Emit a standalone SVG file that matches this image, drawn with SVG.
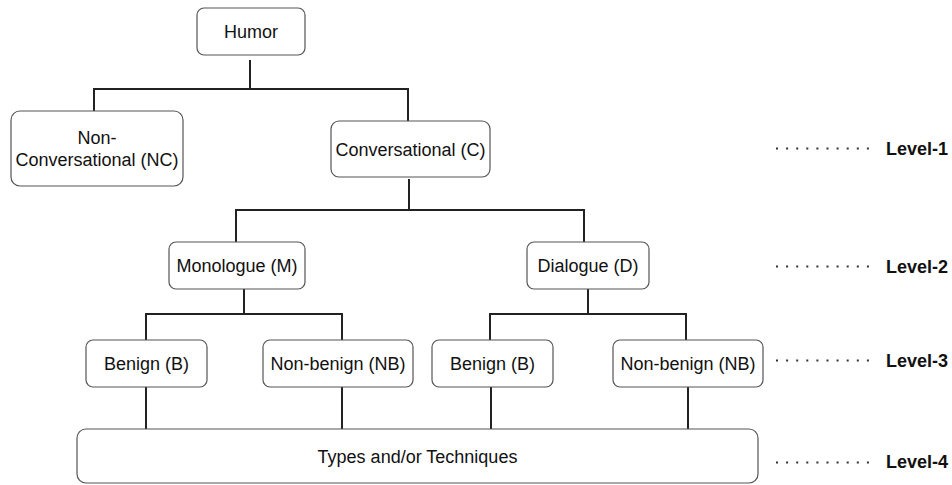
<svg xmlns="http://www.w3.org/2000/svg" width="952" height="485" viewBox="0 0 952 485">
<style>
.box{fill:#fff;stroke:#555;stroke-width:1.2}
.t{font-family:"Liberation Sans",Arial,Helvetica,sans-serif;font-size:18px;fill:#111;text-anchor:middle}
.lv{font-family:"Liberation Sans",Arial,Helvetica,sans-serif;font-size:18px;font-weight:bold;fill:#111;text-anchor:start}
.c{fill:none;stroke:#222;stroke-width:2}
.dots{stroke:#333;stroke-width:2;stroke-dasharray:2 8.1}
</style>
<rect width="952" height="485" fill="#fff"/>
<g id="connectors">
<path class="c" d="M250,60 V89 M94,111 V89 H408 V121"/>
<path class="c" d="M409,179 V210 M236,242 V210 H584 V242"/>
<path class="c" d="M244,289 V314 M146,340 V314 H342 V340"/>
<path class="c" d="M588,289 V314 M490,340 V314 H686 V340"/>
<path class="c" d="M146,387 V429 M342,387 V429 M491,387 V429 M688,387 V429"/>
</g>
<g id="humor"><rect class="box" x="197" y="8" width="108" height="47" rx="7"/><text class="t" x="251" y="38">Humor</text></g>
<g id="nc"><rect class="box" x="11" y="111" width="172" height="75" rx="9"/><text class="t" x="97" y="144">Non-</text><text class="t" x="97" y="166">Conversational (NC)</text></g>
<g id="conv"><rect class="box" x="331" y="121" width="159" height="56" rx="8"/><text class="t" x="410.5" y="155.5">Conversational (C)</text></g>
<g id="mono"><rect class="box" x="169" y="242" width="136" height="47" rx="7"/><text class="t" x="237" y="272">Monologue (M)</text></g>
<g id="dial"><rect class="box" x="527" y="242" width="122" height="47" rx="7"/><text class="t" x="588" y="272">Dialogue (D)</text></g>
<g id="benign1"><rect class="box" x="86" y="340" width="121" height="47" rx="7"/><text class="t" x="146.5" y="370">Benign (B)</text></g>
<g id="nonbenign1"><rect class="box" x="263" y="340" width="150" height="47" rx="7"/><text class="t" x="338" y="370">Non-benign (NB)</text></g>
<g id="benign2"><rect class="box" x="432" y="340" width="121" height="47" rx="7"/><text class="t" x="492.5" y="370">Benign (B)</text></g>
<g id="nonbenign2"><rect class="box" x="613" y="340" width="150" height="47" rx="7"/><text class="t" x="688" y="370">Non-benign (NB)</text></g>
<g id="types"><rect class="box" x="77" y="429" width="681" height="54" rx="9"/><text class="t" x="417.5" y="462.5">Types and/or Techniques</text></g>
<g id="levels">
<line class="dots" x1="776" y1="148.5" x2="870" y2="148.5"/><text class="lv" x="886" y="155">Level-1</text>
<line class="dots" x1="776" y1="266.5" x2="870" y2="266.5"/><text class="lv" x="886" y="273">Level-2</text>
<line class="dots" x1="776" y1="360.5" x2="870" y2="360.5"/><text class="lv" x="886" y="367">Level-3</text>
<line class="dots" x1="776" y1="462.5" x2="870" y2="462.5"/><text class="lv" x="886" y="468">Level-4</text>
</g>
</svg>
